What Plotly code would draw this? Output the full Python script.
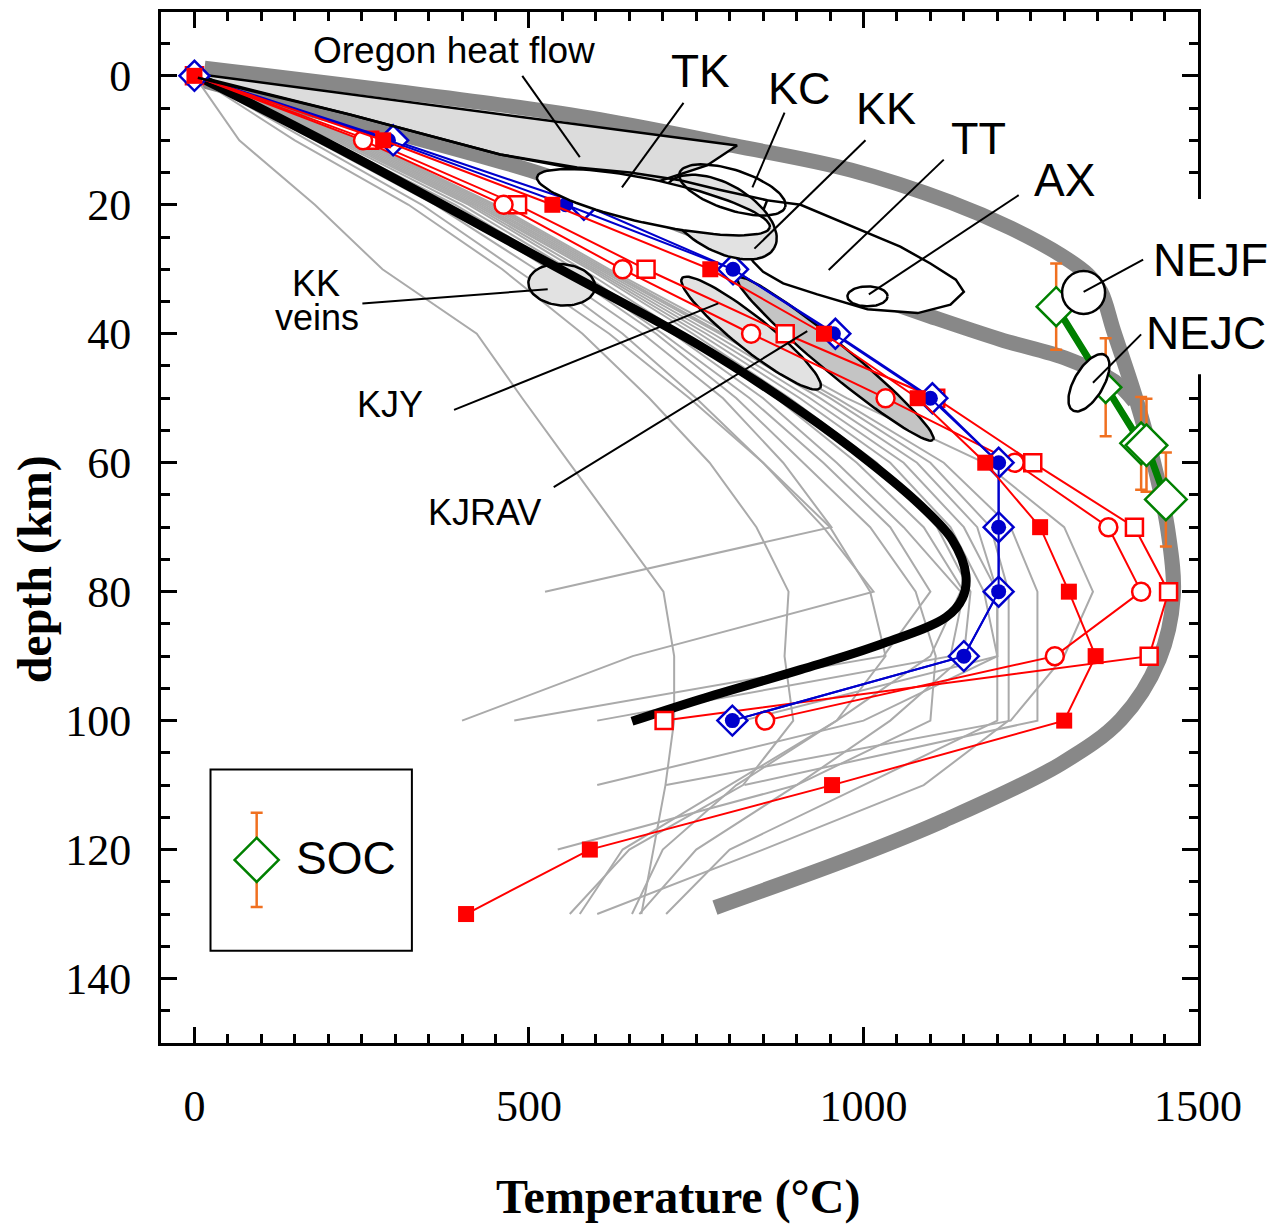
import numpy as np
import plotly.graph_objects as go

# ---------------- data (temperature in °C, depth in km) ----------------
depths = [0, 10, 20, 30, 40, 50, 60, 70, 80, 90, 100, 110, 120, 130]

redsq_T = [0, 282, 535, 771, 941, 1081, 1182, 1264, 1307, 1347, 1300, 953, 591, 406]
redcirc_T = [0, 252, 462, 640, 832, 1033, 1226, 1366, 1415, 1286, 853]
redopen_T = [0, 262, 483, 675, 883, 1108, 1253, 1405, 1456, 1427, 702]
bluedia_T = [0, 297, 582, 805, 958, 1103, 1202, 1202, 1202, 1150, 804]
bluecirc_T = [0, 290, 555, 805, 955, 1100, 1202, 1202, 1202, 1150, 804]

black_T = [3, 232, 531, 756, 906, 1010, 1085, 1133, 1153, 1148, 1123, 1025, 906, 756, 654]
black_z = [0, 12.2, 29.1, 41.9, 52.0, 60.0, 66.6, 72.0, 77.4, 81.0, 84.0, 88.2, 92.1, 96.7, 100.1]

bandA_T = [15, 457, 606, 805, 981, 1130, 1220, 1295, 1335, 1355, 1374, 1407, 1434, 1455, 1463, 1442, 1385, 1295, 1120, 990, 778]
bandA_z = [-1.2, 4.5, 6.8, 10.8, 14.6, 19.6, 23.6, 27.8, 30.8, 33.5, 39.6, 50.0, 60.1, 70.5, 80.8, 90.5, 99.8, 106.7, 115.5, 121.0, 129.0]
bandB_T = [15, 232, 512, 681, 831, 981, 1100, 1205, 1305, 1375, 1405]
bandB_z = [0.8, 6.9, 15.0, 21.4, 27.3, 33.0, 37.3, 40.9, 43.9, 47.4, 50.5]

gray_T = [
    [0, 67, 180, 281, 422, 490, 560, 630, 701, 717, 717, 704, 686, 668],
    [0, 150, 320, 460, 580, 680, 770, 840, 888, 882, 895, 820, 650, 561],
    [0, 170, 340, 480, 620, 740, 850, 940, 1015, 655, 400],
    [0, 180, 360, 510, 640, 750, 850, 950, 1010, 1033, 960, 800, 640, 576],
    [0, 190, 380, 530, 670, 790, 880, 952, 524],
    [0, 200, 390, 550, 690, 810, 910, 1010, 1078, 1108, 1100, 900, 543],
    [0, 210, 400, 560, 700, 830, 940, 1040, 1100, 1030, 478],
    [0, 215, 410, 570, 715, 850, 960, 1060, 1145, 1100, 960, 810, 700, 654],
    [0, 220, 415, 580, 730, 870, 990, 1090, 1150, 1130, 602],
    [0, 225, 420, 590, 745, 890, 1020, 1110, 1160, 1150, 1040, 900, 750, 665],
    [0, 230, 425, 595, 755, 905, 1040, 1130, 1180, 1200, 1000, 602],
    [0, 235, 430, 600, 765, 920, 1060, 1150, 1200, 1200, 1200, 1000, 800, 705],
    [0, 240, 435, 605, 775, 935, 1080, 1170, 1200, 1200, 820],
    [0, 245, 440, 610, 785, 950, 1100, 1190, 1217, 1217, 1217, 1090, 850, 602],
    [0, 248, 445, 615, 790, 960, 1120, 1220, 1260, 1260, 1260, 822],
    [0, 250, 450, 620, 800, 975, 1180, 1300, 1343, 1300, 1220, 705],
]

soc_T = [1288, 1362, 1415, 1423, 1452]
soc_z = [35.8, 48.3, 57.0, 57.3, 65.7]
soc_err = [6.7, 7.6, 7.2, 7.2, 7.3]
soc_size = [30, 24, 32, 32, 32]

oregon_T = [10, 811, 766, 690, 600, 457, 232, 10]
oregon_z = [-0.2, 10.8, 13.9, 16.5, 15.0, 12.2, 6.0, 0.2]
oregon_low_T = [5, 232, 457, 572, 651, 726, 786, 856]
oregon_low_z = [0.3, 6.0, 12.2, 14.2, 15.0, 16.2, 17.7, 19.3]

tt_T = [826, 835, 850, 880, 931, 1006, 1081, 1130, 1150, 1138, 1100, 1055, 1030, 955, 906, 856, 846, 826]
tt_z = [27.3, 28.8, 30.4, 32.2, 33.9, 36.2, 36.8, 35.5, 33.5, 31.6, 29.1, 26.5, 25.4, 22.2, 20.0, 19.3, 21.9, 27.3]

# ellipses: centre T, centre z, semi-axes (in °C-equivalent), tilt (deg)
ell_name = ["KKveins", "KJY", "KJRAV", "KK", "TK", "KC", "AX", "NEJC"]
ell_T = [549, 832, 958, 786, 686, 804, 1006, 1337]
ell_z = [32.4, 39.9, 43.9, 21.9, 19.6, 17.7, 34.2, 47.6]
ell_a = [50, 132, 190, 93, 178, 83, 30, 48]
ell_b = [31, 25, 22, 50, 33, 30, 15, 22]
ell_ang = [5, 38.6, 39.7, 30, 12.3, 18, 0, -60]

nejf_T = [1329]
nejf_z = [33.6]

label_text = ["Oregon heat flow", "TK", "KC", "KK", "TT", "AX", "NEJF", "NEJC", "KK", "veins", "KJY", "KJRAV"]
label_T = [388, 757, 904, 1033, 1172, 1301, 1519, 1512, 181, 183, 293, 434]
label_z = [-3.9, -0.8, 2.0, 5.1, 9.7, 16.2, 28.5, 39.9, 32.2, 37.5, 51.0, 67.7]
label_size = [37, 46, 45, 45, 45, 46, 46, 46, 36, 36, 36, 36]

leader_T0 = [490, 731, 882, 1003, 1120, 1232, 1418, 1415, 251, 388, 537]
leader_z0 = [0.0, 4.2, 5.7, 10.0, 13.0, 18.5, 28.5, 40.1, 35.3, 51.8, 63.8]
leader_T1 = [576, 639, 834, 837, 948, 1008, 1329, 1343, 528, 783, 916]
leader_z1 = [12.6, 17.3, 17.3, 26.8, 30.1, 33.9, 33.5, 47.6, 33.1, 35.3, 39.6]

legend_T = [93]
legend_z = [121.6]
legend_err = [7.3]
legend_box_T = [24, 325]
legend_box_z = [107.6, 135.7]

x_range = [-50, 1500]
y_range = [150, -9.9]

# ---------------- layout geometry ----------------
W, H = 1273, 1218
ML, MR, MT, MB = 153, 83, 1, 183
plot_w = W - ML - MR
plot_h = H - MT - MB
sx = plot_w / (x_range[1] - x_range[0])
sy = plot_h / (y_range[0] - y_range[1])


def px_x(T):
    return (T - x_range[0]) / (x_range[1] - x_range[0])


def px_y(z):
    return (y_range[0] - z) / (y_range[0] - y_range[1])


SERIF = "Liberation Serif"
SANS = "Liberation Sans"

fig = go.Figure()


def add_line(x, y, color, width, shape="linear"):
    fig.add_trace(go.Scatter(x=x, y=y, mode="lines",
                             line=dict(color=color, width=width, shape=shape),
                             hoverinfo="skip", showlegend=False))


def add_poly(x, y, fill, lcolor="black", lwidth=2.5):
    fig.add_trace(go.Scatter(x=x, y=y, mode="lines", fill="toself",
                             fillcolor=fill if fill else "rgba(0,0,0,0)",
                             line=dict(color=lcolor, width=lwidth),
                             hoverinfo="skip", showlegend=False))


def ellipse(i, n=90):
    t = np.linspace(0, 2 * np.pi, n)
    ang = np.radians(ell_ang[i])
    u = ell_a[i] * sx * np.cos(t)
    v = ell_b[i] * sx * np.sin(t)
    ur = u * np.cos(ang) - v * np.sin(ang)
    vr = u * np.sin(ang) + v * np.cos(ang)
    return ell_T[i] + ur / sx, ell_z[i] + vr / sy


ell_fill = {"KKveins": "#e2e2e2", "KJY": "#e2e2e2", "KJRAV": "#c4c4c4", "KK": "#e2e2e2",
            "TK": "white", "KC": None, "AX": "white", "NEJC": "white"}

# 1. thick grey bands
add_line(bandB_T, bandB_z, "#888888", 15, "spline")
add_line(bandA_T, bandA_z, "#888888", 15, "spline")

# 2. Oregon heat flow polygon
add_poly(oregon_T, oregon_z, "#dcdcdc", "black", 2.5)

# 3. thin grey geotherms
for g in gray_T:
    add_line(g, depths[:len(g)], "#aaaaaa", 2)

# 4. lower ellipses
for nm in ["KKveins", "KJY", "KJRAV"]:
    i = ell_name.index(nm)
    ex, ey = ellipse(i)
    add_poly(ex, ey, ell_fill[nm])

# 5. thick black geotherm
add_line(black_T, black_z, "black", 9, "spline")

# 6. data series
RED = "#ff0000"
BLUE = "#0000cc"
fig.add_trace(go.Scatter(x=redopen_T, y=depths[:len(redopen_T)], mode="lines+markers",
                         line=dict(color=RED, width=2),
                         marker=dict(symbol="square", size=17, color="white", opacity=1,
                                     line=dict(color=RED, width=2.5)),
                         hoverinfo="skip", showlegend=False))
fig.add_trace(go.Scatter(x=redcirc_T, y=depths[:len(redcirc_T)], mode="lines+markers",
                         line=dict(color=RED, width=2),
                         marker=dict(symbol="circle", size=18, color="white", opacity=1,
                                     line=dict(color=RED, width=2.5)),
                         hoverinfo="skip", showlegend=False))
fig.add_trace(go.Scatter(x=bluedia_T, y=depths[:len(bluedia_T)], mode="lines+markers",
                         line=dict(color=BLUE, width=2),
                         marker=dict(symbol="diamond", size=23, color="white", opacity=1,
                                     line=dict(color=BLUE, width=2.5)),
                         hoverinfo="skip", showlegend=False))
fig.add_trace(go.Scatter(x=bluecirc_T, y=depths[:len(bluecirc_T)], mode="lines+markers",
                         line=dict(color=BLUE, width=2),
                         marker=dict(symbol="circle", size=15, color=BLUE, opacity=1, line=dict(width=0)),
                         hoverinfo="skip", showlegend=False))
fig.add_trace(go.Scatter(x=redsq_T, y=depths[:len(redsq_T)], mode="lines+markers",
                         line=dict(color=RED, width=2),
                         marker=dict(symbol="square", size=16, color=RED, opacity=1, line=dict(width=0)),
                         hoverinfo="skip", showlegend=False))

# 7. upper region outlines
add_poly(tt_T, tt_z, "white")
for nm in ["KK", "TK", "KC"]:
    i = ell_name.index(nm)
    ex, ey = ellipse(i)
    add_poly(ex, ey, ell_fill[nm])
add_line(oregon_low_T, oregon_low_z, "black", 2.5)
i = ell_name.index("AX")
ex, ey = ellipse(i)
add_poly(ex, ey, ell_fill["AX"])

# 8. SOC
add_line(soc_T, soc_z, "#008000", 7)
fig.add_trace(go.Scatter(x=soc_T, y=soc_z, mode="markers",
                         marker=dict(symbol="diamond", size=soc_size, sizemode="diameter", color="white",
                                     opacity=1, line=dict(color="#008000", width=2.5)),
                         error_y=dict(type="data", array=soc_err, color="#f07020", thickness=2.5, width=6),
                         hoverinfo="skip", showlegend=False))
i = ell_name.index("NEJC")
ex, ey = ellipse(i)
add_poly(ex, ey, ell_fill["NEJC"])
fig.add_trace(go.Scatter(x=nejf_T, y=nejf_z, mode="markers",
                         marker=dict(symbol="circle", size=43, color="white", opacity=1,
                                     line=dict(color="black", width=2.5)),
                         hoverinfo="skip", showlegend=False))

# 9. leader lines
lx, ly = [], []
for a, b, c, d in zip(leader_T0, leader_z0, leader_T1, leader_z1):
    lx += [a, c, None]
    ly += [b, d, None]
add_line(lx, ly, "black", 2)

# 10. legend
fig.add_trace(go.Scatter(x=legend_T, y=legend_z, mode="markers",
                         marker=dict(symbol="diamond", size=34, color="white", opacity=1,
                                     line=dict(color="#008000", width=2.5)),
                         error_y=dict(type="data", array=legend_err, color="#f07020", thickness=2.5, width=6),
                         hoverinfo="skip", showlegend=False))

shapes = [
    dict(type="rect", xref="x", yref="y", x0=legend_box_T[0], x1=legend_box_T[1],
         y0=legend_box_z[0], y1=legend_box_z[1], line=dict(color="black", width=2), layer="above"),
]
# white mask that interrupts the right frame beside the NEJF / NEJC labels
mask_z = [19.1, 46.3]
shapes.append(dict(type="rect", xref="paper", yref="paper", x0=0.981, x1=1.012,
                   y0=px_y(mask_z[1]), y1=px_y(mask_z[0]),
                   fillcolor="white", line=dict(width=0), layer="above"))

annotations = []
for t, x, y, s in zip(label_text, label_T, label_z, label_size):
    annotations.append(dict(x=px_x(x), y=px_y(y), xref="paper", yref="paper", text=t, showarrow=False,
                            font=dict(family=SANS, size=s, color="black"),
                            xanchor="center", yanchor="middle"))
annotations.append(dict(x=px_x(226), y=px_y(121.3), xref="paper", yref="paper", text="SOC", showarrow=False,
                        font=dict(family=SANS, size=46, color="black"), xanchor="center", yanchor="middle"))
annotations.append(dict(x=0.4986, y=-0.1489, xref="paper", yref="paper", text="<b>Temperature (°C)</b>",
                        showarrow=False, font=dict(family=SERIF, size=48, color="black"),
                        xanchor="center", yanchor="middle"))
annotations.append(dict(x=-0.1215, y=0.4594, xref="paper", yref="paper", text="<b>depth (km)</b>",
                        showarrow=False, textangle=-90, font=dict(family=SERIF, size=48, color="black"),
                        xanchor="center", yanchor="middle"))

axis_common = dict(showline=True, linewidth=3, linecolor="black", mirror="ticks",
                   ticks="inside", ticklen=16, tickwidth=3, tickcolor="black",
                   showgrid=False, zeroline=False,
                   tickfont=dict(family=SERIF, size=44, color="black"))

fig.update_layout(
    width=W, height=H,
    margin=dict(l=ML, r=MR, t=MT, b=MB),
    paper_bgcolor="white", plot_bgcolor="white",
    xaxis=dict(range=x_range, tick0=0, dtick=500, ticklabelstandoff=22,
               minor=dict(dtick=50, ticks="inside", ticklen=9, tickwidth=2.5, tickcolor="black"),
               **axis_common),
    yaxis=dict(range=y_range, tick0=0, dtick=20, ticklabelstandoff=18,
               minor=dict(dtick=5, ticks="inside", ticklen=9, tickwidth=2.5, tickcolor="black"),
               **axis_common),
    shapes=shapes,
    annotations=annotations,
    showlegend=False,
)

fig.write_html("out.html")
